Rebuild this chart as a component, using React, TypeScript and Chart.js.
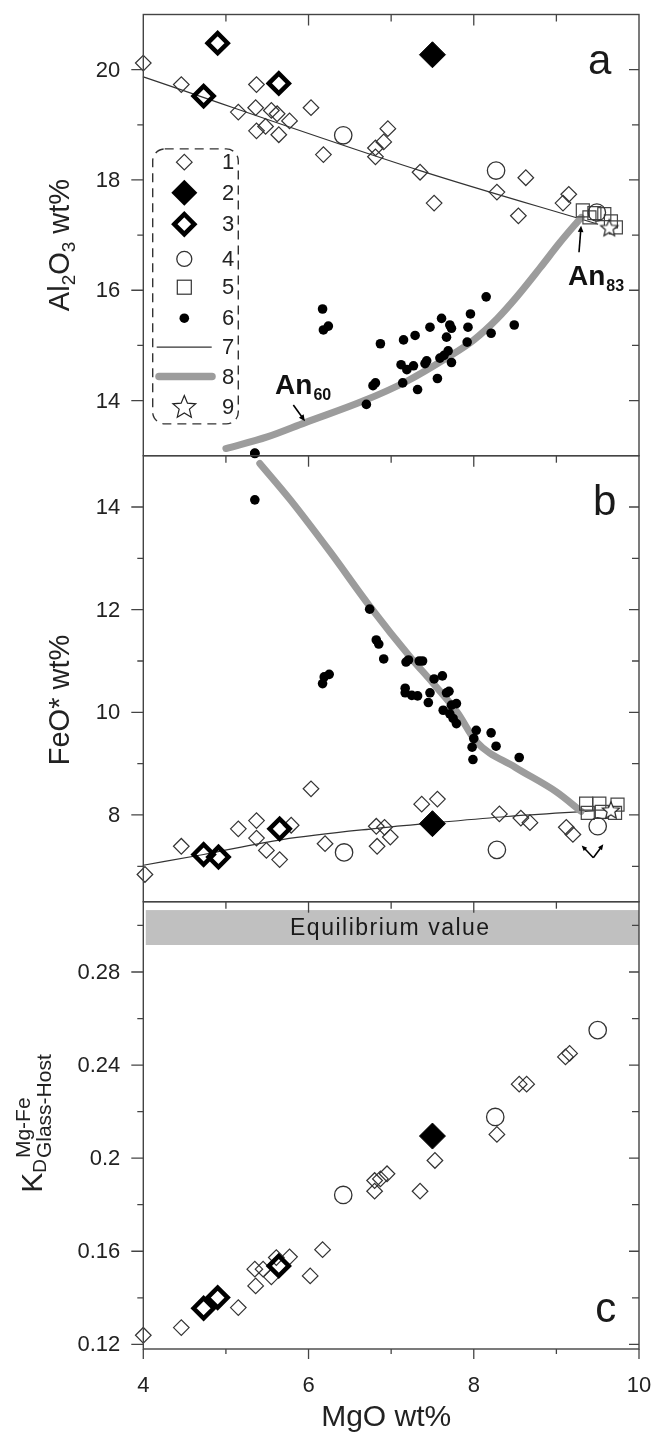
import React, { useEffect, useRef } from "react";
import { Chart, registerables } from "chart.js";

Chart.register(...registerables);

// ---------------- layout (pixels) ----------------
const PAGE_W = 661;
const PAGE_H = 1434;
const FRAME_LEFT = 143.3;
const FRAME_RIGHT = 639;
const PANEL_A_TOP = 7.3;
const PANEL_B_TOP = 455.7;
const PANEL_C_TOP = 901.7;
const PANEL_C_BOTTOM = 1349;
const FONT = '"Liberation Sans", Arial, Helvetica, sans-serif';

// ---------------- x axis: MgO wt% ----------------
const xMin = 4;
const xMax = 10;
const xTickLabels = [4, 6, 8, 10];
const xMinorTicks = [5, 7, 9];

// ---------------- panel a: Al2O3 wt% ----------------
const aYMin = 13;
const aYMax = 21;
const aMajorTicks = [14, 16, 18, 20];
const aMinorTicks = [15, 17, 19];

const aOpenMgO = [4.0, 4.46, 5.37, 5.15, 5.36, 5.55, 5.62, 5.77, 6.03, 5.37, 5.48, 5.64, 6.18, 6.81, 6.81, 6.91, 6.96, 7.35, 7.52, 8.28, 8.63, 8.54, 9.15, 9.08];
const aOpenAl = [20.12, 19.73, 19.73, 19.23, 19.31, 19.26, 19.2, 19.07, 19.31, 18.89, 18.97, 18.82, 18.46, 18.58, 18.42, 18.69, 18.93, 18.14, 17.58, 17.78, 18.04, 17.35, 17.74, 17.58];
const aFilledMgO = [7.5];
const aFilledAl = [20.27];
const aThickMgO = [4.9, 4.73, 5.64];
const aThickAl = [20.48, 19.52, 19.75];
const aCircleMgO = [6.42, 8.27, 9.49];
const aCircleAl = [18.81, 18.17, 17.41];
const aSquareMgO = [9.32, 9.4, 9.46, 9.58, 9.66, 9.72];
const aSquareAl = [17.45, 17.32, 17.4, 17.38, 17.25, 17.14];
const aStarMgO = [9.64];
const aStarAl = [17.12];
const aDotMgO = [5.35, 6.17, 6.18, 6.24, 6.7, 6.78, 6.81, 6.87, 7.12, 7.14, 7.15, 7.19, 7.27, 7.29, 7.32, 7.41, 7.43, 7.47, 7.56, 7.59, 7.61, 7.64, 7.67, 7.69, 7.71, 7.73, 7.73, 7.92, 7.93, 7.96, 8.15, 8.21, 8.49];
const aDotAl = [13.04, 15.66, 15.28, 15.35, 13.93, 14.27, 14.32, 15.03, 14.65, 14.32, 15.1, 14.56, 14.63, 15.18, 14.2, 14.67, 14.72, 15.33, 14.4, 14.77, 15.49, 14.82, 15.15, 14.9, 15.37, 15.31, 14.69, 15.06, 15.33, 15.57, 15.88, 15.22, 15.37];
const aLine7MgO = [4.0, 7.35, 9.5];
const aLine7Al = [19.87, 18.17, 17.2];
const aCurve8MgO = [5.0, 5.5, 5.96, 6.66, 7.19, 7.67, 8.0, 8.28, 8.52, 8.8, 9.04, 9.3];
const aCurve8Al = [13.13, 13.34, 13.6, 13.99, 14.35, 14.77, 15.1, 15.48, 15.88, 16.4, 16.86, 17.32];

// ---------------- panel b: FeO* wt% ----------------
const bYMin = 6.31;
const bYMax = 15;
const bMajorTicks = [8, 10, 12, 14];
const bMinorTicks = [7, 9, 11, 13];

const bOpenMgO = [4.02, 4.46, 5.15, 5.37, 5.37, 5.49, 5.65, 5.79, 6.03, 6.2, 6.82, 6.92, 6.99, 6.83, 7.37, 7.56, 8.31, 8.57, 8.68, 9.12, 9.2];
const bOpenFeO = [6.84, 7.39, 7.73, 7.89, 7.55, 7.31, 7.13, 7.8, 8.51, 7.44, 7.78, 7.76, 7.57, 7.39, 8.21, 8.31, 8.02, 7.94, 7.85, 7.76, 7.62];
const bFilledMgO = [7.5];
const bFilledFeO = [7.83];
const bThickMgO = [4.73, 4.91, 5.65];
const bThickFeO = [7.23, 7.18, 7.73];
const bCircleMgO = [6.43, 8.28, 9.5];
const bCircleFeO = [7.27, 7.32, 7.78];
const bSquareMgO = [9.36, 9.52, 9.74, 9.38, 9.55, 9.71];
const bSquareFeO = [8.22, 8.22, 8.2, 8.04, 8.06, 8.04];
const bStarMgO = [9.66];
const bStarFeO = [8.08];
const bDotMgO = [5.35, 5.35, 6.17, 6.19, 6.25, 6.74, 6.82, 6.85, 6.91, 7.17, 7.17, 7.18, 7.21, 7.25, 7.32, 7.34, 7.38, 7.45, 7.47, 7.52, 7.62, 7.63, 7.67, 7.7, 7.71, 7.73, 7.75, 7.79, 7.79, 7.98, 7.99, 8.0, 8.03, 8.21, 8.27, 8.55];
const bDotFeO = [15.05, 14.14, 10.56, 10.69, 10.74, 12.01, 11.41, 11.33, 11.04, 10.47, 10.38, 10.98, 11.02, 10.33, 10.32, 11.0, 11.0, 10.19, 10.38, 10.65, 10.71, 10.04, 10.38, 10.41, 9.97, 10.14, 9.88, 10.17, 9.78, 9.32, 9.08, 9.49, 9.65, 9.6, 9.34, 9.12];
const bLine7MgO = [4.0, 4.73, 5.68, 6.83, 7.55, 8.4, 9.45];
const bLine7FeO = [7.02, 7.23, 7.52, 7.74, 7.85, 7.97, 8.08];
const bCurve8MgO = [5.41, 5.78, 6.26, 6.74, 7.25, 7.5, 7.8, 8.03, 8.5, 9.0, 9.3];
const bCurve8FeO = [14.85, 14.14, 13.13, 12.07, 11.04, 10.58, 10.0, 9.43, 8.93, 8.45, 8.07];

// ---------------- panel c: KD ----------------
const cYMin = 0.118;
const cYMax = 0.3102;
const cMajorTicks = [0.12, 0.16, 0.2, 0.24, 0.28];
const cMinorTicks = [0.14, 0.18, 0.22, 0.26, 0.3];

const cOpenMgO = [4.0, 4.46, 5.15, 5.35, 5.36, 5.45, 5.55, 5.61, 5.77, 6.02, 6.17, 6.8, 6.8, 6.87, 6.95, 7.35, 7.53, 8.28, 8.55, 8.64, 9.11, 9.16];
const cOpenKd = [0.1239, 0.1272, 0.1358, 0.1523, 0.1451, 0.1523, 0.149, 0.1573, 0.1576, 0.1494, 0.1607, 0.1904, 0.1858, 0.1911, 0.1933, 0.1858, 0.199, 0.2102, 0.2318, 0.2318, 0.2435, 0.245];
const cFilledMgO = [7.5];
const cFilledKd = [0.2095];
const cThickMgO = [4.73, 4.9, 5.64];
const cThickKd = [0.1355, 0.1401, 0.1537];
const cCircleMgO = [6.42, 8.26, 9.5];
const cCircleKd = [0.1842, 0.2177, 0.255];
const cEquilibriumBand = [0.2916, 0.3066];
const cEquilibriumMgO = [4.03, 10];

// ---------------- legend ----------------
const legendNumbers = ["1", "2", "3", "4", "5", "6", "7", "8", "9"];

// ---------------- annotations (data coordinates) ----------------
const an83Text = { x: 9.14, y: 16.1, main: "An", sub: "83" };
const an83Arrow = { x0: 9.274, y0: 16.69, x1: 9.299, y1: 17.17 };
const an60Text = { x: 5.595, y: 14.12, main: "An", sub: "60" };
const an60Arrow = { x0: 5.816, y0: 13.92, x1: 5.957, y1: 13.625 };
const bArrowVertex = { x: 9.447, y: 7.167 };
const bArrowEnds = [
  { x: 9.306, y: 7.407 },
  { x: 9.568, y: 7.427 },
];

// ---------------- helpers ----------------
const pts = (xs: number[], ys: number[]) => xs.map((x, i) => ({ x, y: ys[i] }));

function starPath(ctx: CanvasRenderingContext2D, cx: number, cy: number, R: number, r: number) {
  ctx.beginPath();
  for (let i = 0; i < 10; i++) {
    const ang = -Math.PI / 2 + (i * Math.PI) / 5;
    const rad = i % 2 === 0 ? R : r;
    const px = cx + rad * Math.cos(ang);
    const py = cy + rad * Math.sin(ang);
    if (i === 0) ctx.moveTo(px, py);
    else ctx.lineTo(px, py);
  }
  ctx.closePath();
}

function makeStarImage(R: number) {
  const s = Math.ceil(R * 2 + 4);
  const c = document.createElement("canvas");
  c.width = s;
  c.height = s;
  const g = c.getContext("2d") as CanvasRenderingContext2D;
  starPath(g, s / 2, s / 2, R, R * 0.45);
  g.fillStyle = "#fff";
  g.fill();
  g.lineWidth = 1.2;
  g.strokeStyle = "#222";
  g.stroke();
  return c;
}

const TRANSPARENT = "rgba(0,0,0,0)";

function pointSet(data: any[], style: string) {
  const base: any = { data, showLine: false, clip: false };
  switch (style) {
    case "open":
      return { ...base, pointStyle: "rectRot", pointRadius: 7.8, pointHoverRadius: 7.8, pointBorderWidth: 1.2, pointBorderColor: "#333", pointBackgroundColor: TRANSPARENT };
    case "filled":
      return { ...base, pointStyle: "rectRot", pointRadius: 13, pointHoverRadius: 13, pointBorderWidth: 1, pointBorderColor: "#000", pointBackgroundColor: "#000" };
    case "thick":
      return { ...base, pointStyle: "rectRot", pointRadius: 10, pointHoverRadius: 10, pointBorderWidth: 4.5, pointBorderColor: "#000", pointBackgroundColor: TRANSPARENT };
    case "circle":
      return { ...base, pointStyle: "circle", pointRadius: 8.7, pointHoverRadius: 8.7, pointBorderWidth: 1.3, pointBorderColor: "#333", pointBackgroundColor: TRANSPARENT };
    case "square":
      return { ...base, pointStyle: "rect", pointRadius: 9.2, pointHoverRadius: 9.2, pointBorderWidth: 1.2, pointBorderColor: "#444", pointBackgroundColor: TRANSPARENT };
    case "dot":
      return { ...base, pointStyle: "circle", pointRadius: 4.8, pointHoverRadius: 4.8, pointBorderWidth: 0, pointBorderColor: "#000", pointBackgroundColor: "#000" };
    default:
      return base;
  }
}

function starSet(data: any[]) {
  return { data, showLine: false, clip: false, pointStyle: makeStarImage(9), pointRadius: 9, pointHoverRadius: 9 };
}

function lineSet(data: any[], kind: "thin" | "gray") {
  return {
    data,
    showLine: true,
    clip: false,
    pointRadius: 0,
    pointHoverRadius: 0,
    borderColor: kind === "thin" ? "#333" : "#9c9c9c",
    borderWidth: kind === "thin" ? 1.2 : 7,
    borderCapStyle: "round",
    borderJoinStyle: "round",
    cubicInterpolationMode: "monotone",
    fill: false,
  };
}

function drawArrow(ctx: CanvasRenderingContext2D, x0: number, y0: number, x1: number, y1: number, head = 7) {
  const ang = Math.atan2(y1 - y0, x1 - x0);
  ctx.save();
  ctx.strokeStyle = "#000";
  ctx.fillStyle = "#000";
  ctx.lineWidth = 1.6;
  ctx.beginPath();
  ctx.moveTo(x0, y0);
  ctx.lineTo(x1 - Math.cos(ang) * head * 0.6, y1 - Math.sin(ang) * head * 0.6);
  ctx.stroke();
  ctx.beginPath();
  ctx.moveTo(x1, y1);
  ctx.lineTo(x1 - head * Math.cos(ang - 0.42), y1 - head * Math.sin(ang - 0.42));
  ctx.lineTo(x1 - head * Math.cos(ang + 0.42), y1 - head * Math.sin(ang + 0.42));
  ctx.closePath();
  ctx.fill();
  ctx.restore();
}

type Part = { text: string; size: number; dy: number; bold?: boolean };

function drawRotatedParts(ctx: CanvasRenderingContext2D, baseX: number, centerY: number, parts: Part[], stretch = 1) {
  ctx.save();
  ctx.translate(baseX, centerY);
  ctx.rotate(-Math.PI / 2);
  ctx.scale(stretch, 1);
  ctx.fillStyle = "#222";
  ctx.textBaseline = "alphabetic";
  ctx.textAlign = "left";
  let total = 0;
  const widths = parts.map((p) => {
    ctx.font = `${p.bold ? "bold " : ""}${p.size}px ${FONT}`;
    const w = ctx.measureText(p.text).width;
    total += w;
    return w;
  });
  let x = -total / 2;
  parts.forEach((p, i) => {
    ctx.font = `${p.bold ? "bold " : ""}${p.size}px ${FONT}`;
    ctx.fillText(p.text, x, p.dy);
    x += widths[i];
  });
  ctx.restore();
}

function drawKdTitle(ctx: CanvasRenderingContext2D, baseX: number, centerY: number) {
  ctx.save();
  ctx.translate(baseX, centerY);
  ctx.rotate(-Math.PI / 2);
  ctx.fillStyle = "#222";
  ctx.textBaseline = "alphabetic";
  ctx.textAlign = "left";
  ctx.font = `30px ${FONT}`;
  const wK = ctx.measureText("K").width;
  ctx.font = `19px ${FONT}`;
  const wD = ctx.measureText("D").width;
  ctx.font = `21px ${FONT}`;
  const wSup = ctx.measureText("Mg-Fe").width;
  const wSub = ctx.measureText("Glass-Host").width;
  const total = wK + wD + Math.max(wSup, wSub);
  let x = -total / 2;
  ctx.font = `30px ${FONT}`;
  ctx.fillText("K", x, 0);
  x += wK;
  ctx.font = `19px ${FONT}`;
  ctx.fillText("D", x, 4);
  x += wD + 1;
  ctx.font = `21px ${FONT}`;
  ctx.fillText("Mg-Fe", x, -12);
  ctx.fillText("Glass-Host", x, 9);
  ctx.restore();
}

type PanelCfg = {
  key: string;
  major: number[];
  minor: number[];
  letter: { text: string; x: number; y: number };
  isBottom: boolean;
  title: (ctx: CanvasRenderingContext2D, cy: number) => void;
  titleCenterY: number;
  before?: (chart: any) => void;
  after?: (chart: any) => void;
};

function makePanelPlugin(cfg: PanelCfg) {
  return {
    id: "panel_" + cfg.key,
    beforeDatasetsDraw(chart: any) {
      if (cfg.before) cfg.before(chart);
    },
    afterDatasetsDraw(chart: any) {
      const ctx: CanvasRenderingContext2D = chart.ctx;
      const { left, right, top, bottom } = chart.chartArea;
      const xs = chart.scales.x;
      const ys = chart.scales.y;
      ctx.save();
      // frame
      ctx.strokeStyle = "#444";
      ctx.lineWidth = 1.4;
      ctx.strokeRect(left, top, right - left, bottom - top);
      // y ticks
      ctx.lineWidth = 1.3;
      const yTicks = [...cfg.major.map((v) => [v, 1]), ...cfg.minor.map((v) => [v, 0])];
      yTicks.forEach(([v, isMaj]) => {
        const py = ys.getPixelForValue(v);
        if (py < top - 0.5 || py > bottom + 0.5) return;
        ctx.beginPath();
        ctx.moveTo(left - (isMaj ? 12 : 6), py);
        ctx.lineTo(left, py);
        ctx.moveTo(right - (isMaj ? 10 : 7), py);
        ctx.lineTo(right, py);
        ctx.stroke();
      });
      // x ticks on top edge (pointing down)
      const xTicks = [...xTickLabels.map((v) => [v, 1]), ...xMinorTicks.map((v) => [v, 0])];
      xTicks.forEach(([v, isMaj]) => {
        if (v <= xMin || v >= xMax) return;
        const px = xs.getPixelForValue(v);
        ctx.beginPath();
        ctx.moveTo(px, top);
        ctx.lineTo(px, top + (isMaj ? 11 : 7));
        ctx.stroke();
        if (cfg.isBottom) {
          ctx.beginPath();
          ctx.moveTo(px, bottom);
          ctx.lineTo(px, bottom + (isMaj ? 10 : 5));
          ctx.stroke();
        }
      });
      if (cfg.isBottom) {
        [xMin, xMax].forEach((v) => {
          const px = xs.getPixelForValue(v);
          ctx.beginPath();
          ctx.moveTo(px, bottom);
          ctx.lineTo(px, bottom + 10);
          ctx.stroke();
        });
      }
      // y tick labels
      ctx.fillStyle = "#222";
      ctx.font = `22px ${FONT}`;
      ctx.textAlign = "right";
      ctx.textBaseline = "middle";
      cfg.major.forEach((v) => {
        ctx.fillText(String(v), left - 23, ys.getPixelForValue(v) + 1);
      });
      // x tick labels + title
      if (cfg.isBottom) {
        ctx.textAlign = "center";
        xTickLabels.forEach((v) => {
          ctx.fillText(String(v), xs.getPixelForValue(v), bottom + 37);
        });
        ctx.font = `30px ${FONT}`;
        ctx.fillText("MgO wt%", (left + right) / 2 - 5, bottom + 69);
      }
      // panel letter
      ctx.font = `42px ${FONT}`;
      ctx.textAlign = "center";
      ctx.textBaseline = "alphabetic";
      ctx.fillStyle = "#1a1a1a";
      ctx.fillText(cfg.letter.text, xs.getPixelForValue(cfg.letter.x), ys.getPixelForValue(cfg.letter.y));
      // y title
      cfg.title(ctx, cfg.titleCenterY);
      ctx.restore();
      if (cfg.after) cfg.after(chart);
    },
  };
}

function drawLegend(chart: any) {
  const ctx: CanvasRenderingContext2D = chart.ctx;
  const { left, top } = chart.chartArea;
  const bx0 = left + 9.4;
  const by0 = top + 134.4;
  const bw = 85.6;
  const bh = 275;
  const rr = 12;
  ctx.save();
  ctx.strokeStyle = "#333";
  ctx.lineWidth = 1.4;
  ctx.setLineDash([9, 6]);
  ctx.beginPath();
  ctx.moveTo(bx0 + rr, by0);
  ctx.lineTo(bx0 + bw - rr, by0);
  ctx.arcTo(bx0 + bw, by0, bx0 + bw, by0 + rr, rr);
  ctx.lineTo(bx0 + bw, by0 + bh - rr);
  ctx.arcTo(bx0 + bw, by0 + bh, bx0 + bw - rr, by0 + bh, rr);
  ctx.lineTo(bx0 + rr, by0 + bh);
  ctx.arcTo(bx0, by0 + bh, bx0, by0 + bh - rr, rr);
  ctx.lineTo(bx0, by0 + rr);
  ctx.arcTo(bx0, by0, bx0 + rr, by0, rr);
  ctx.closePath();
  ctx.stroke();
  ctx.setLineDash([]);

  const rowY = [147.7, 178.2, 209.7, 244.4, 272.7, 303.7, 332.7, 362, 392].map((d) => top + d);
  const sx = left + 41;
  const nx = left + 84.7;
  const diamond = (cx: number, cy: number, r: number) => {
    ctx.beginPath();
    ctx.moveTo(cx - r, cy);
    ctx.lineTo(cx, cy - r);
    ctx.lineTo(cx + r, cy);
    ctx.lineTo(cx, cy + r);
    ctx.closePath();
  };
  ctx.strokeStyle = "#333";
  ctx.lineWidth = 1.2;
  diamond(sx, rowY[0], 7.8);
  ctx.stroke();
  ctx.fillStyle = "#000";
  diamond(sx, rowY[1], 13);
  ctx.fill();
  ctx.strokeStyle = "#000";
  ctx.lineWidth = 4.5;
  diamond(sx, rowY[2], 10);
  ctx.stroke();
  ctx.strokeStyle = "#333";
  ctx.lineWidth = 1.3;
  ctx.beginPath();
  ctx.arc(sx, rowY[3], 7.5, 0, Math.PI * 2);
  ctx.stroke();
  ctx.lineWidth = 1.2;
  ctx.strokeRect(sx - 7, rowY[4] - 7, 14, 14);
  ctx.beginPath();
  ctx.arc(sx, rowY[5], 4.8, 0, Math.PI * 2);
  ctx.fill();
  ctx.lineWidth = 1.2;
  ctx.beginPath();
  ctx.moveTo(left + 13.4, rowY[6]);
  ctx.lineTo(left + 68.4, rowY[6]);
  ctx.stroke();
  ctx.strokeStyle = "#9c9c9c";
  ctx.lineWidth = 7.5;
  ctx.lineCap = "round";
  ctx.beginPath();
  ctx.moveTo(left + 15.7, rowY[7]);
  ctx.lineTo(left + 68.7, rowY[7]);
  ctx.stroke();
  ctx.lineCap = "butt";
  starPath(ctx, sx, rowY[8] + 1, 12, 5.4);
  ctx.fillStyle = "#fff";
  ctx.fill();
  ctx.strokeStyle = "#222";
  ctx.lineWidth = 1.2;
  ctx.stroke();

  ctx.fillStyle = "#222";
  ctx.font = `22px ${FONT}`;
  ctx.textAlign = "center";
  ctx.textBaseline = "middle";
  legendNumbers.forEach((n, i) => ctx.fillText(n, nx, rowY[i] + 1));
  ctx.restore();
}

function drawAnLabel(ctx: CanvasRenderingContext2D, px: number, py: number, main: string, sub: string) {
  ctx.save();
  ctx.fillStyle = "#111";
  ctx.textAlign = "left";
  ctx.textBaseline = "alphabetic";
  ctx.font = `bold 28px ${FONT}`;
  ctx.fillText(main, px, py);
  const w = ctx.measureText(main).width;
  ctx.font = `bold 16px ${FONT}`;
  ctx.fillText(sub, px + w + 1, py + 6);
  ctx.restore();
}

const panelAPlugin = makePanelPlugin({
  key: "a",
  major: aMajorTicks,
  minor: aMinorTicks,
  letter: { text: "a", x: 9.524, y: 19.917 },
  isBottom: false,
  titleCenterY: 245,
  title: (ctx, cy) =>
    drawRotatedParts(ctx, 69, cy, [
      { text: "Al", size: 29, dy: 0 },
      { text: "2", size: 19, dy: 6 },
      { text: "O", size: 29, dy: 0 },
      { text: "3", size: 19, dy: 6 },
      { text: " wt%", size: 29, dy: 0 },
    ]),
  after: (chart) => {
    const ctx = chart.ctx;
    const xs = chart.scales.x;
    const ys = chart.scales.y;
    drawLegend(chart);
    drawArrow(ctx, xs.getPixelForValue(an83Arrow.x0), ys.getPixelForValue(an83Arrow.y0), xs.getPixelForValue(an83Arrow.x1), ys.getPixelForValue(an83Arrow.y1));
    drawArrow(ctx, xs.getPixelForValue(an60Arrow.x0), ys.getPixelForValue(an60Arrow.y0), xs.getPixelForValue(an60Arrow.x1), ys.getPixelForValue(an60Arrow.y1));
    drawAnLabel(ctx, xs.getPixelForValue(an83Text.x), ys.getPixelForValue(an83Text.y), an83Text.main, an83Text.sub);
    drawAnLabel(ctx, xs.getPixelForValue(an60Text.x), ys.getPixelForValue(an60Text.y), an60Text.main, an60Text.sub);
  },
});

const panelBPlugin = makePanelPlugin({
  key: "b",
  major: bMajorTicks,
  minor: bMinorTicks,
  letter: { text: "b", x: 9.585, y: 13.846 },
  isBottom: false,
  titleCenterY: 700,
  title: (ctx, cy) => drawRotatedParts(ctx, 69, cy, [{ text: "FeO* wt%", size: 29, dy: 0 }]),
  after: (chart) => {
    const ctx = chart.ctx;
    const xs = chart.scales.x;
    const ys = chart.scales.y;
    const vx = xs.getPixelForValue(bArrowVertex.x);
    const vy = ys.getPixelForValue(bArrowVertex.y);
    bArrowEnds.forEach((e) => drawArrow(ctx, vx, vy, xs.getPixelForValue(e.x), ys.getPixelForValue(e.y), 6));
  },
});

const panelCPlugin = makePanelPlugin({
  key: "c",
  major: cMajorTicks,
  minor: cMinorTicks,
  letter: { text: "c", x: 9.597, y: 0.1296 },
  isBottom: true,
  titleCenterY: 1124,
  title: (ctx, cy) => drawKdTitle(ctx, 42, cy),
  before: (chart) => {
    const ctx: CanvasRenderingContext2D = chart.ctx;
    const xs = chart.scales.x;
    const ys = chart.scales.y;
    const x0 = xs.getPixelForValue(cEquilibriumMgO[0]);
    const x1 = xs.getPixelForValue(cEquilibriumMgO[1]);
    const y0 = ys.getPixelForValue(cEquilibriumBand[1]);
    const y1 = ys.getPixelForValue(cEquilibriumBand[0]);
    ctx.save();
    ctx.fillStyle = "#c0c0c0";
    ctx.fillRect(x0, y0, x1 - x0, y1 - y0);
    ctx.fillStyle = "#1a1a1a";
    ctx.font = `23px ${FONT}`;
    (ctx as any).letterSpacing = "1.5px";
    ctx.textAlign = "center";
    ctx.textBaseline = "middle";
    ctx.fillText("Equilibrium value", xs.getPixelForValue(6.99), (y0 + y1) / 2 + 1);
    ctx.restore();
  },
});

function buildChart(canvas: HTMLCanvasElement, top: number, bottom: number, yMin: number, yMax: number, datasets: any[], plugin: any) {
  return new Chart(canvas, {
    type: "scatter",
    data: { datasets },
    options: {
      animation: false,
      responsive: false,
      devicePixelRatio: 1,
      events: [],
      layout: { padding: { left: FRAME_LEFT, right: PAGE_W - FRAME_RIGHT, top, bottom: PAGE_H - bottom } },
      scales: {
        x: { type: "linear", min: xMin, max: xMax, display: false },
        y: { type: "linear", min: yMin, max: yMax, display: false },
      },
      plugins: { legend: { display: false }, tooltip: { enabled: false } },
    } as any,
    plugins: [plugin],
  } as any);
}

export default function App() {
  const refA = useRef<HTMLCanvasElement>(null);
  const refB = useRef<HTMLCanvasElement>(null);
  const refC = useRef<HTMLCanvasElement>(null);

  useEffect(() => {
    const chartA = buildChart(
      refA.current as HTMLCanvasElement,
      PANEL_A_TOP,
      PANEL_B_TOP,
      aYMin,
      aYMax,
      [
        starSet(pts(aStarMgO, aStarAl)),
        pointSet(pts(aFilledMgO, aFilledAl), "filled"),
        pointSet(pts(aThickMgO, aThickAl), "thick"),
        pointSet(pts(aCircleMgO, aCircleAl), "circle"),
        pointSet(pts(aSquareMgO, aSquareAl), "square"),
        pointSet(pts(aOpenMgO, aOpenAl), "open"),
        pointSet(pts(aDotMgO, aDotAl), "dot"),
        lineSet(pts(aCurve8MgO, aCurve8Al), "gray"),
        lineSet(pts(aLine7MgO, aLine7Al), "thin"),
      ],
      panelAPlugin
    );
    const chartB = buildChart(
      refB.current as HTMLCanvasElement,
      PANEL_B_TOP,
      PANEL_C_TOP,
      bYMin,
      bYMax,
      [
        starSet(pts(bStarMgO, bStarFeO)),
        pointSet(pts(bFilledMgO, bFilledFeO), "filled"),
        pointSet(pts(bThickMgO, bThickFeO), "thick"),
        pointSet(pts(bCircleMgO, bCircleFeO), "circle"),
        pointSet(pts(bSquareMgO, bSquareFeO), "square"),
        pointSet(pts(bOpenMgO, bOpenFeO), "open"),
        pointSet(pts(bDotMgO, bDotFeO), "dot"),
        lineSet(pts(bCurve8MgO, bCurve8FeO), "gray"),
        lineSet(pts(bLine7MgO, bLine7FeO), "thin"),
      ],
      panelBPlugin
    );
    const chartC = buildChart(
      refC.current as HTMLCanvasElement,
      PANEL_C_TOP,
      PANEL_C_BOTTOM,
      cYMin,
      cYMax,
      [
        pointSet(pts(cFilledMgO, cFilledKd), "filled"),
        pointSet(pts(cThickMgO, cThickKd), "thick"),
        pointSet(pts(cCircleMgO, cCircleKd), "circle"),
        pointSet(pts(cOpenMgO, cOpenKd), "open"),
      ],
      panelCPlugin
    );
    return () => {
      chartA.destroy();
      chartB.destroy();
      chartC.destroy();
    };
  }, []);

  const canvasStyle: React.CSSProperties = { position: "absolute", left: 0, top: 0, width: PAGE_W, height: PAGE_H };
  return (
    <div style={{ position: "absolute", left: 0, top: 0, width: PAGE_W, height: PAGE_H, background: "#fff", overflow: "hidden" }}>
      <canvas ref={refC} width={PAGE_W} height={PAGE_H} style={canvasStyle} />
      <canvas ref={refB} width={PAGE_W} height={PAGE_H} style={canvasStyle} />
      <canvas ref={refA} width={PAGE_W} height={PAGE_H} style={canvasStyle} />
    </div>
  );
}
